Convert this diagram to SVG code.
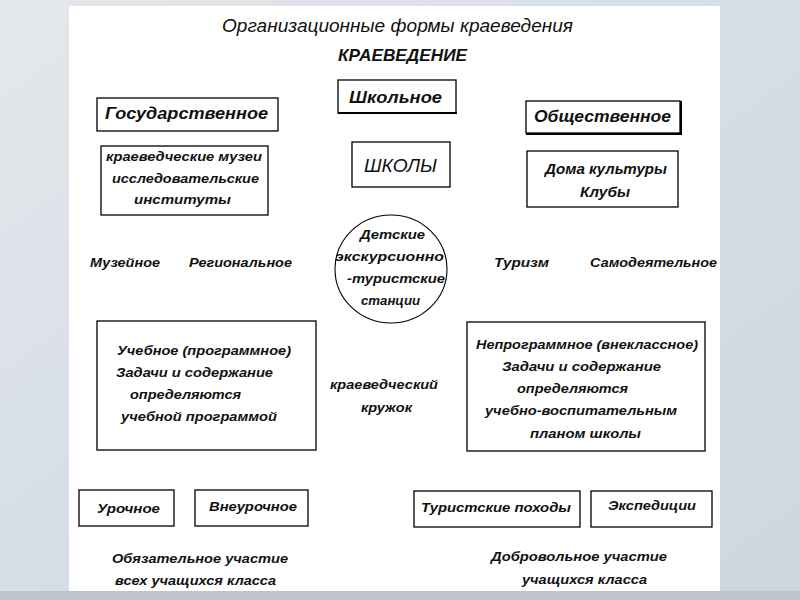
<svg xmlns="http://www.w3.org/2000/svg" width="800" height="600" viewBox="0 0 800 600">
<defs>
<linearGradient id="bg" x1="0" y1="0" x2="1" y2="1">
<stop offset="0" stop-color="#e4e8ec"/>
<stop offset="0.5" stop-color="#d6dde5"/>
<stop offset="1" stop-color="#cfd6de"/>
</linearGradient>
<style>
.box{fill:#fff;stroke:#000;stroke-width:1.3}
.t{font-family:"Liberation Sans",Arial,sans-serif;font-style:italic;font-weight:bold;fill:#111}
.n{font-weight:normal}
.s13{font-size:13.5px}
.s17{font-size:17px}
</style>
</defs>
<rect x="0" y="0" width="800" height="600" fill="url(#bg)"/>
<rect x="0" y="591" width="800" height="9" fill="#bfc4ca"/>
<rect x="69" y="6" width="651" height="585" fill="#fff"/>

<g id="title">
<text class="t n" x="222" y="32" font-size="18" textLength="351" lengthAdjust="spacingAndGlyphs">Организационные формы краеведения</text>
<text class="t s17" x="338" y="61" textLength="129" lengthAdjust="spacingAndGlyphs">КРАЕВЕДЕНИЕ</text>
</g>

<g id="shkolnoe">
<rect class="box" x="338" y="80" width="118" height="33"/>
<line x1="338" y1="113" x2="457" y2="113" stroke="#000" stroke-width="2"/>
<text class="t s17" x="349" y="103" font-weight="500" textLength="93" lengthAdjust="spacingAndGlyphs">Школьное</text>
</g>

<g id="gosudarstvennoe">
<rect class="box" x="97" y="98" width="181" height="33"/>
<text class="t s17" x="105" y="119" textLength="163" lengthAdjust="spacingAndGlyphs">Государственное</text>
</g>

<g id="obshchestvennoe">
<rect class="box" x="526" y="101" width="154" height="32"/>
<polyline points="681,101 681,134 526,134" fill="none" stroke="#000" stroke-width="2"/>
<text class="t s17" x="534" y="122" font-weight="500" textLength="137" lengthAdjust="spacingAndGlyphs">Общественное</text>
</g>

<g id="muzei">
<rect class="box" x="101" y="146" width="167" height="69"/>
<text class="t s13" x="106" y="161" textLength="156" lengthAdjust="spacingAndGlyphs">краеведческие музеи</text>
<text class="t s13" x="112" y="183" textLength="147" lengthAdjust="spacingAndGlyphs">исследовательские</text>
<text class="t s13" x="134" y="204" textLength="97" lengthAdjust="spacingAndGlyphs">институты</text>
</g>

<g id="shkoly">
<rect class="box" x="352" y="142" width="98" height="45"/>
<text class="t n" x="364" y="172" font-size="19" textLength="73" lengthAdjust="spacingAndGlyphs">ШКОЛЫ</text>
</g>

<g id="doma">
<rect class="box" x="527" y="151" width="151" height="56"/>
<text class="t" x="545" y="174" font-size="14" textLength="122" lengthAdjust="spacingAndGlyphs">Дома культуры</text>
<text class="t" x="580" y="197" font-size="14" textLength="50" lengthAdjust="spacingAndGlyphs">Клубы</text>
</g>

<g id="stantsii">
<ellipse cx="391" cy="269" rx="56" ry="54" fill="#fff" stroke="#000" stroke-width="1.1"/>
<text class="t s13" x="360" y="239" textLength="65" lengthAdjust="spacingAndGlyphs">Детские</text>
<text class="t s13" x="335" y="261" textLength="109" lengthAdjust="spacingAndGlyphs">экскурсионно</text>
<text class="t s13" x="347" y="283" textLength="98" lengthAdjust="spacingAndGlyphs">-туристские</text>
<text class="t s13" x="361" y="305" textLength="59" lengthAdjust="spacingAndGlyphs">станции</text>
</g>

<g id="labels">
<text class="t s13" x="90" y="267" textLength="70" lengthAdjust="spacingAndGlyphs">Музейное</text>
<text class="t s13" x="189" y="267" textLength="103" lengthAdjust="spacingAndGlyphs">Региональное</text>
<text class="t s13" x="494" y="267" textLength="55" lengthAdjust="spacingAndGlyphs">Туризм</text>
<text class="t s13" x="590" y="267" textLength="127" lengthAdjust="spacingAndGlyphs">Самодеятельное</text>
</g>

<g id="uchebnoe">
<rect class="box" x="97" y="321" width="219" height="129"/>
<text class="t s13" x="117" y="355" textLength="174" lengthAdjust="spacingAndGlyphs">Учебное (программное)</text>
<text class="t s13" x="116" y="377" textLength="157" lengthAdjust="spacingAndGlyphs">Задачи и содержание</text>
<text class="t s13" x="130" y="399" textLength="111" lengthAdjust="spacingAndGlyphs">определяются</text>
<text class="t s13" x="121" y="421" textLength="156" lengthAdjust="spacingAndGlyphs">учебной программой</text>
</g>

<g id="kruzhok">
<text class="t s13" x="330" y="389" textLength="108" lengthAdjust="spacingAndGlyphs">краеведческий</text>
<text class="t s13" x="361" y="412" textLength="51" lengthAdjust="spacingAndGlyphs">кружок</text>
</g>

<g id="neprogrammnoe">
<rect class="box" x="467" y="322" width="238" height="129"/>
<text class="t s13" x="476" y="349" textLength="222" lengthAdjust="spacingAndGlyphs">Непрограммное (внеклассное)</text>
<text class="t s13" x="502" y="371" textLength="159" lengthAdjust="spacingAndGlyphs">Задачи и содержание</text>
<text class="t s13" x="517" y="393" textLength="111" lengthAdjust="spacingAndGlyphs">определяются</text>
<text class="t s13" x="485" y="415" textLength="192" lengthAdjust="spacingAndGlyphs">учебно-воспитательным</text>
<text class="t s13" x="530" y="438" textLength="111" lengthAdjust="spacingAndGlyphs">планом школы</text>
</g>

<g id="urochnoe">
<rect class="box" x="79" y="490" width="95" height="36"/>
<text class="t s13" x="97" y="513" textLength="63" lengthAdjust="spacingAndGlyphs">Урочное</text>
</g>
<g id="vneurochnoe">
<rect class="box" x="195" y="490" width="113" height="36"/>
<text class="t s13" x="209" y="511" textLength="88" lengthAdjust="spacingAndGlyphs">Внеурочное</text>
</g>
<g id="pokhody">
<rect class="box" x="414" y="491" width="166" height="36"/>
<text class="t s13" x="421" y="512" textLength="150" lengthAdjust="spacingAndGlyphs">Туристские походы</text>
</g>
<g id="ekspeditsii">
<rect class="box" x="591" y="491" width="121" height="36"/>
<text class="t s13" x="608" y="510" textLength="88" lengthAdjust="spacingAndGlyphs">Экспедиции</text>
</g>

<g id="uchastie">
<text class="t s13" x="112" y="563" textLength="176" lengthAdjust="spacingAndGlyphs">Обязательное участие</text>
<text class="t s13" x="115" y="585" textLength="161" lengthAdjust="spacingAndGlyphs">всех учащихся класса</text>
<text class="t s13" x="491" y="561" textLength="176" lengthAdjust="spacingAndGlyphs">Добровольное участие</text>
<text class="t s13" x="522" y="584" textLength="125" lengthAdjust="spacingAndGlyphs">учащихся класса</text>
</g>

<g id="connectors"></g>
</svg>
